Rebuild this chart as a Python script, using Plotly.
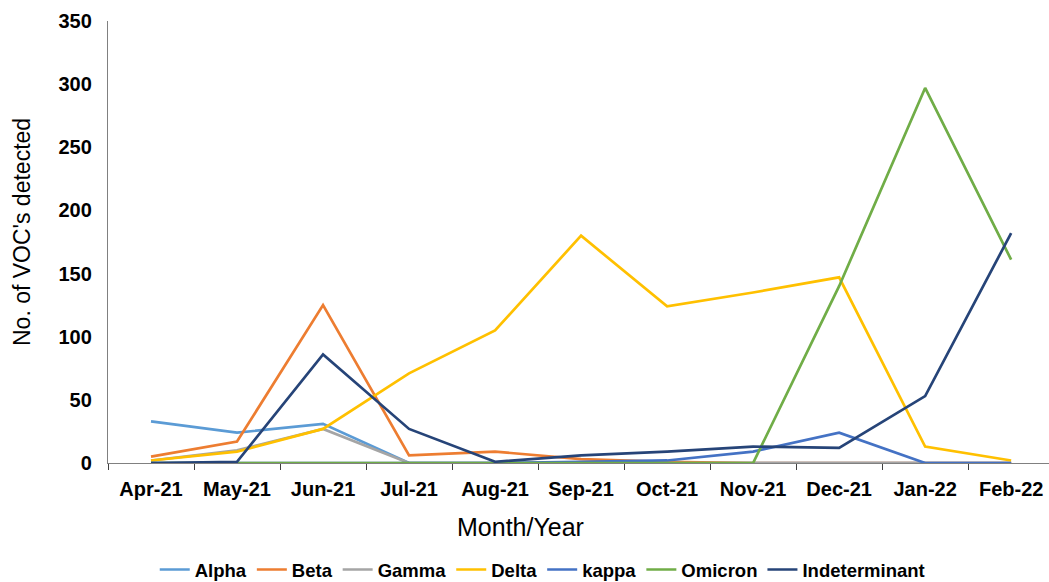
import plotly.graph_objects as go

months = ["Apr-21", "May-21", "Jun-21", "Jul-21", "Aug-21", "Sep-21",
          "Oct-21", "Nov-21", "Dec-21", "Jan-22", "Feb-22"]

alpha = [33, 24, 31, 0, 0, 0, 0, 0, 0, 0, 0]
beta = [5, 17, 125, 6, 9, 3, 1, 0, 0, 0, 0]
gamma = [2, 10, 27, 0, 0, 0, 0, 0, 0, 0, 0]
delta = [2, 9, 27, 71, 105, 180, 124, 135, 147, 13, 2]
kappa = [0, 0, 0, 0, 0, 1, 2, 9, 24, 0, 0]
omicron = [0, 0, 0, 0, 0, 0, 0, 0, 140, 297, 161]
indeterminant = [0, 1, 86, 27, 1, 6, 9, 13, 12, 53, 182]

series = [
    ("Alpha", alpha, "#5B9BD5"),
    ("Beta", beta, "#ED7D31"),
    ("Gamma", gamma, "#A5A5A5"),
    ("Delta", delta, "#FFC000"),
    ("kappa", kappa, "#4472C4"),
    ("Omicron", omicron, "#70AD47"),
    ("Indeterminant", indeterminant, "#264478"),
]

fig = go.Figure()
for name, vals, color in series:
    fig.add_trace(go.Scatter(x=months, y=vals, name=name, mode="lines",
                             line=dict(color=color, width=2.7)))

fig.update_layout(
    width=1049, height=582,
    paper_bgcolor="white", plot_bgcolor="white",
    margin=dict(l=108, r=0, t=21, b=119, autoexpand=False),
    font=dict(family="Liberation Sans, Arial, sans-serif", color="#000000"),
    legend=dict(orientation="h", x=0.462, xanchor="center", y=-0.242, yanchor="middle",
                font=dict(family="Liberation Sans, Arial",
                          size=18.5, color="#000000", weight="bold"),
                itemwidth=30, tracegroupgap=0),
    showlegend=True,
    annotations=[
        dict(text="Month/Year", xref="paper", yref="paper", x=0.4379, y=-0.1448,
             xanchor="center", yanchor="middle", showarrow=False,
             font=dict(size=25, color="#000000")),
        dict(text="No. of VOC's detected", xref="paper", yref="paper", x=-0.0914, y=0.5226,
             xanchor="center", yanchor="middle", showarrow=False, textangle=-90,
             font=dict(size=23, color="#000000")),
    ],
)

fig.update_xaxes(
    type="category", range=[-0.5, 10.44], automargin=False,
    showline=True, linecolor="#808080", linewidth=1.3,
    ticks="outside", tickson="boundaries", ticklen=6, tickcolor="#404040",
    showgrid=False, zeroline=False,
    tickfont=dict(size=20, weight="bold", color="#000000"),
    ticklabelstandoff=8,
)
fig.update_yaxes(
    range=[0, 350], dtick=50, automargin=False,
    showline=True, linecolor="#808080", linewidth=1.3,
    ticks="", showgrid=False, zeroline=False,
    tickfont=dict(size=20, weight="bold", color="#000000"),
    ticklabelstandoff=11,
)

fig.write_html("out.html",
               config={"displayModeBar": False},
               post_script="document.body.style.margin='0';document.body.style.overflow='hidden';")
